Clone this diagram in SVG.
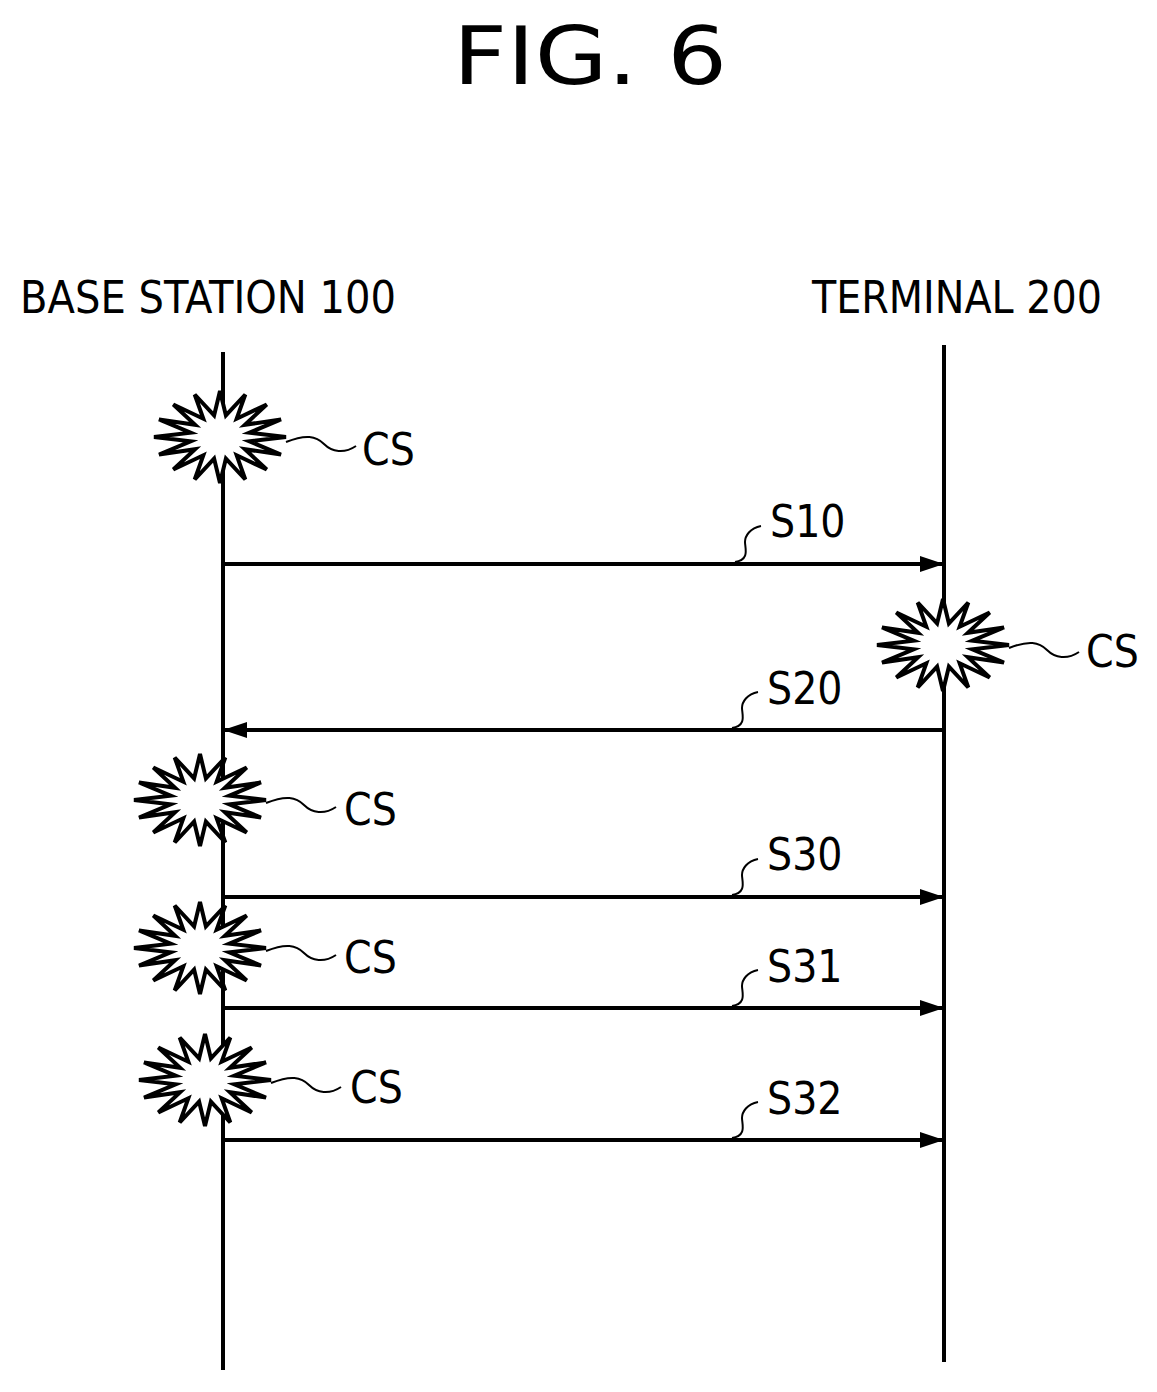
<svg xmlns="http://www.w3.org/2000/svg" width="1157" height="1392" viewBox="0 0 1157 1392">
<style>
text{font-family:"DejaVu Sans Condensed","DejaVu Sans",sans-serif;fill:#000}
.t{font-size:44px}
.line{stroke:#000;stroke-width:4;fill:none}
.lead{stroke:#000;stroke-width:2;fill:none}
.burst{fill:#fff;stroke:#000;stroke-width:4;stroke-linejoin:miter}
</style>
<defs>
<marker id="ah" markerWidth="10" markerHeight="8" refX="9" refY="4" orient="auto" markerUnits="userSpaceOnUse" viewBox="0 0 10 8"><path d="M0,0L10,4L0,8z" fill="#000" transform="scale(1)"/></marker>
<marker id="a" viewBox="0 0 24 16" refX="24" refY="8" markerWidth="24" markerHeight="16" orient="auto" markerUnits="userSpaceOnUse"><path d="M0,0L24,8L0,16z" fill="#000"/></marker>
<path id="star" class="burst" d="M66,0L29.4,4.3L61,17.6L24.9,12.2L46.7,32.5L16.7,18.3L25.3,42.5L5.9,21.6L0,46L-5.9,21.6L-25.3,42.5L-16.7,18.3L-46.7,32.5L-24.9,12.2L-61,17.6L-29.4,4.3L-66,0L-29.4,-4.3L-61,-17.6L-24.9,-12.2L-46.7,-32.5L-16.7,-18.3L-25.3,-42.5L-5.9,-21.6L0,-46L5.9,-21.6L25.3,-42.5L16.7,-18.3L46.7,-32.5L24.9,-12.2L61,-17.6L29.4,-4.3Z"/>
</defs>
<text x="453" y="84" font-size="80" textLength="274" lengthAdjust="spacingAndGlyphs">FIG. 6</text>
<g id="base"><text class="t" x="20" y="313" textLength="376" lengthAdjust="spacingAndGlyphs">BASE STATION 100</text><line class="line" x1="223" y1="352" x2="223" y2="1370"/></g>
<g id="terminal"><text class="t" x="812" y="313" textLength="290" lengthAdjust="spacingAndGlyphs">TERMINAL 200</text><line class="line" x1="944" y1="345" x2="944" y2="1362"/></g>
<g id="connectors">
<line class="line" x1="223" y1="564" x2="944" y2="564" marker-end="url(#a)"/>
<line class="line" x1="944" y1="730" x2="223" y2="730" marker-end="url(#a)"/>
<line class="line" x1="223" y1="897" x2="944" y2="897" marker-end="url(#a)"/>
<line class="line" x1="223" y1="1008" x2="944" y2="1008" marker-end="url(#a)"/>
<line class="line" x1="223" y1="1140" x2="944" y2="1140" marker-end="url(#a)"/>
<path class="lead" d="M735,562c15,-2 10,-14 10,-20s5,-14 16,-16"/>
<path class="lead" d="M732,728c15,-2 10,-14 10,-20s5,-14 16,-16"/>
<path class="lead" d="M732,895c15,-2 10,-14 10,-20s5,-14 16,-16"/>
<path class="lead" d="M732,1006c15,-2 10,-14 10,-20s5,-14 16,-16"/>
<path class="lead" d="M732,1138c15,-2 10,-14 10,-20s5,-14 16,-16"/>
</g>
<g id="s10"><text class="t" x="770" y="537">S10</text></g>
<g id="s20"><text class="t" x="767" y="704">S20</text></g>
<g id="s30"><text class="t" x="767" y="870">S30</text></g>
<g id="s31"><text class="t" x="767" y="982">S31</text></g>
<g id="s32"><text class="t" x="767" y="1114">S32</text></g>
<g id="cs1"><use href="#star" x="220" y="437"/><path class="lead" d="M286,442c20,-8 30,-6 38,2s20,10 32,2"/><text class="t" x="362" y="465">CS</text></g>
<g id="cs2"><use href="#star" x="943" y="645"/><path class="lead" d="M1009,648c20,-8 30,-6 38,2s20,10 32,2"/><text class="t" x="1086" y="667">CS</text></g>
<g id="cs3"><use href="#star" x="200" y="800"/><path class="lead" d="M266,803c20,-8 30,-6 38,2s20,10 32,2"/><text class="t" x="344" y="825">CS</text></g>
<g id="cs4"><use href="#star" x="200" y="948"/><path class="lead" d="M266,951c20,-8 30,-6 38,2s20,10 32,2"/><text class="t" x="344" y="973">CS</text></g>
<g id="cs5"><use href="#star" x="205" y="1080"/><path class="lead" d="M271,1083c20,-8 30,-6 38,2s20,10 32,2"/><text class="t" x="350" y="1103">CS</text></g>
</svg>
